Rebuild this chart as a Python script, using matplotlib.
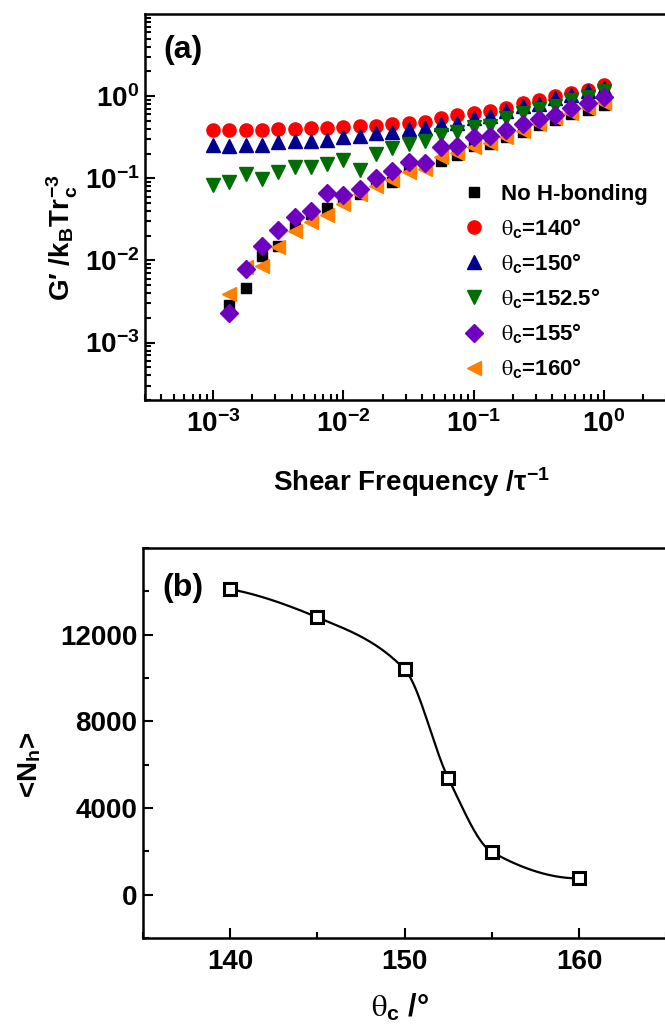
import numpy as np
import matplotlib
matplotlib.use('Agg')
import matplotlib.pyplot as plt
from matplotlib.ticker import FixedLocator, FuncFormatter, LogLocator, MultipleLocator, NullFormatter

# PENGATURAN
plt.rcParams['font.family'] = ['Liberation Sans', 'DejaVu Sans']
plt.rcParams['font.weight'] = 'bold'
plt.rcParams['axes.labelweight'] = 'bold'
plt.rcParams['mathtext.fontset'] = 'custom'
plt.rcParams['mathtext.rm'] = 'Liberation Sans:bold'
plt.rcParams['mathtext.bf'] = 'Liberation Sans:bold'
plt.rcParams['mathtext.it'] = 'STIXGeneral:weight=normal'
plt.rcParams['axes.linewidth'] = 1.8

W, H = 665, 1031

# DATA (a)
FREQ = [0.001, 0.00133, 0.00178, 0.00237, 0.00316, 0.00422, 0.00562, 0.0075,
        0.01, 0.0133, 0.0178, 0.0237, 0.0316, 0.0422, 0.0562, 0.075,
        0.1, 0.133, 0.178, 0.237, 0.316, 0.422, 0.562, 0.75, 1.0]
FREQ_24 = FREQ[1:]

G_NOHB = [0.0029, 0.0046, 0.0114, 0.015, 0.0257, 0.0372, 0.0439, 0.0591,
          0.0637, 0.0985, 0.0897, 0.136, 0.147, 0.161, 0.194, 0.249,
          0.261, 0.314, 0.361, 0.446, 0.508, 0.6, 0.671, 0.778]
G_140 = [0.385, 0.385, 0.388, 0.385, 0.396, 0.396, 0.407, 0.407, 0.422, 0.43,
         0.438, 0.463, 0.472, 0.49, 0.537, 0.584, 0.629, 0.659, 0.71, 0.815,
         0.886, 1.0, 1.097, 1.204, 1.358]
G_150 = [0.253, 0.249, 0.256, 0.256, 0.273, 0.281, 0.281, 0.291, 0.314, 0.329,
         0.351, 0.361, 0.396, 0.414, 0.455, 0.476, 0.547, 0.573, 0.659, 0.757,
         0.8, 0.937, 1.047, 1.17, 1.24]
G_1525 = [0.0818, 0.0898, 0.113, 0.0985, 0.1185, 0.136, 0.136, 0.149, 0.167,
          0.126, 0.197, 0.231, 0.261, 0.281, 0.335, 0.367, 0.422, 0.434,
          0.537, 0.617, 0.69, 0.757, 0.887, 0.972, 1.149]
G_155 = [0.0023, 0.00783, 0.015, 0.0234, 0.0339, 0.04, 0.066, 0.062, 0.0745,
         0.101, 0.124, 0.157, 0.152, 0.238, 0.244, 0.314, 0.329, 0.385,
         0.463, 0.523, 0.589, 0.723, 0.83, 0.972]
G_160 = [0.00394, 0.0084, 0.0086, 0.0147, 0.023, 0.0295, 0.0355, 0.0491,
         0.0637, 0.0796, 0.094, 0.1185, 0.13, 0.18, 0.201, 0.242, 0.266,
         0.314, 0.378, 0.455, 0.537, 0.629, 0.723, 0.83]

# DATA (b)
THETA = [140, 145, 150, 152.5, 155, 160]
NH = [14100, 12800, 10400, 5380, 1970, 750]


def pchip(x, y, xs):
    x = np.asarray(x, float)
    y = np.asarray(y, float)
    h = np.diff(x)
    dl = np.diff(y) / h
    n = len(x)
    d = np.zeros(n)
    for k in range(1, n - 1):
        if dl[k - 1] * dl[k] > 0:
            w1 = 2 * h[k] + h[k - 1]
            w2 = h[k] + 2 * h[k - 1]
            d[k] = (w1 + w2) / (w1 / dl[k - 1] + w2 / dl[k])
    d0 = ((2 * h[0] + h[1]) * dl[0] - h[0] * dl[1]) / (h[0] + h[1])
    d[0] = d0 if np.sign(d0) == np.sign(dl[0]) else 0
    dn = ((2 * h[-1] + h[-2]) * dl[-1] - h[-1] * dl[-2]) / (h[-1] + h[-2])
    d[-1] = dn if np.sign(dn) == np.sign(dl[-1]) else 0
    idx = np.clip(np.searchsorted(x, xs) - 1, 0, n - 2)
    t = (xs - x[idx]) / h[idx]
    h00 = 2 * t**3 - 3 * t**2 + 1
    h10 = t**3 - 2 * t**2 + t
    h01 = -2 * t**3 + 3 * t**2
    h11 = t**3 - t**2
    return (h00 * y[idx] + h10 * h[idx] * d[idx] + h01 * y[idx + 1]
            + h11 * h[idx] * d[idx + 1])


fig = plt.figure(figsize=(W / 100, H / 100), dpi=100)

# PANEL (a)
ax = fig.add_axes([145 / W, 1 - 400 / H, (668 - 145) / W, (400 - 14) / H])

series = [
    (FREQ_24, G_NOHB, 's', 'black', 7.5, 'No H-bonding', 2),
    (FREQ, G_140, 'o', '#FF0000', 9.5, r'$\theta_\mathrm{c}$=140°', 3),
    (FREQ, G_150, '^', '#000090', 10, r'$\theta_\mathrm{c}$=150°', 4),
    (FREQ, G_1525, 'v', '#006E00', 10, r'$\theta_\mathrm{c}$=152.5°', 5),
    (FREQ_24, G_155, 'D', '#7000C0', 9, r'$\theta_\mathrm{c}$=155°', 7),
    (FREQ_24, G_160, '<', '#FF8000', 10, r'$\theta_\mathrm{c}$=160°', 6),
]
for xs, ys, mk, col, ms, lab, zo in series:
    ax.plot(xs, ys, ls='none', marker=mk, color=col, ms=ms, mec=col,
            label=lab, zorder=zo)

ax.set_xscale('log')
ax.set_yscale('log')
ax.set_xlim(3e-4, 3.1)
ax.set_ylim(2e-4, 10)

ax.xaxis.set_major_locator(FixedLocator([1e-3, 1e-2, 1e-1, 1]))
ax.yaxis.set_major_locator(FixedLocator([1e-3, 1e-2, 1e-1, 1]))
fmt = FuncFormatter(lambda v, p: r'$\mathbf{10^{%d}}$' % round(np.log10(v)))
ax.xaxis.set_major_formatter(fmt)
ax.yaxis.set_major_formatter(fmt)
ax.xaxis.set_minor_locator(LogLocator(base=10, subs=np.arange(2, 10), numticks=20))
ax.yaxis.set_minor_locator(LogLocator(base=10, subs=np.arange(2, 10), numticks=20))
ax.xaxis.set_minor_formatter(NullFormatter())
ax.yaxis.set_minor_formatter(NullFormatter())
ax.tick_params(which='both', direction='in', top=False, right=False,
               width=1.5, labelsize=20)
ax.tick_params(which='major', length=7)
ax.tick_params(which='minor', length=4)
ax.tick_params(axis='x', pad=7)
ax.tick_params(axis='y', pad=4)

ax.set_xlabel(r'Shear Frequency /$\mathrm{\tau^{-1}}$', fontsize=20)
ax.xaxis.set_label_coords(0.51, -0.17)
ax.set_ylabel(r"G′ /k$_\mathrm{B}$Tr$_\mathrm{c}^\mathrm{-3}$", fontsize=20)
ax.yaxis.set_label_coords(-0.125, 0.42)
ax.text(0.035, 0.945, '(a)', transform=ax.transAxes, fontsize=23,
        va='top', ha='left')

leg = ax.legend(loc='upper left', bbox_to_anchor=(0.607, 0.56), frameon=False,
                fontsize=16, handlelength=1.0, handletextpad=0.75,
                labelspacing=0.5, borderpad=0, borderaxespad=0)

# PANEL (b)
bx = fig.add_axes([143 / W, 1 - 938 / H, (668 - 143) / W, (938 - 548) / H])
tt = np.linspace(THETA[0], THETA[-1], 300)
bx.plot(tt, pchip(THETA, NH, tt), color='black', lw=1.6, zorder=2)
bx.plot(THETA, NH, ls='none', marker='s', ms=9, mfc='white', mec='black',
        mew=2.2, zorder=3)
bx.set_xlim(135, 165.1)
bx.set_ylim(-2000, 16000)
bx.xaxis.set_major_locator(FixedLocator([140, 150, 160]))
bx.xaxis.set_minor_locator(MultipleLocator(5))
bx.yaxis.set_major_locator(FixedLocator([0, 4000, 8000, 12000]))
bx.yaxis.set_minor_locator(MultipleLocator(2000))
bx.tick_params(which='both', direction='in', top=False, right=False,
               width=1.5, labelsize=20)
bx.tick_params(which='major', length=7)
bx.tick_params(which='minor', length=4)
bx.tick_params(axis='x', pad=8)
bx.tick_params(axis='y', pad=4)

bx.set_xlabel(r'$\theta_\mathrm{c}$ /°', fontsize=22)
bx.xaxis.set_label_coords(0.49, -0.14)
bx.set_ylabel(r'<N$_\mathrm{h}$>', fontsize=20)
bx.yaxis.set_label_coords(-0.19, 0.444)
bx.text(0.036, 0.936, '(b)', transform=bx.transAxes, fontsize=23,
        va='top', ha='left')

plt.savefig('out.png', dpi=100)
plt.close(fig)
